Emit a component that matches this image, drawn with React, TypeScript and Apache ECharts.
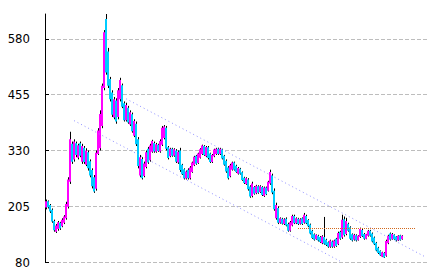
import React, { useEffect, useRef } from "react";
import * as echarts from "echarts";

const opens = [
  202, 216, 208, 197, 172, 148, 154, 168, 160, 168, 178, 204, 260, 345, 310, 346, 314, 346, 305, 336,
  298, 326, 306, 286, 270, 244, 322, 335, 385, 470, 625, 552, 490, 460, 404, 442, 405, 445, 476, 436,
  398, 426, 388, 411, 363, 390, 355, 274, 311, 273, 293, 334, 308, 327, 347, 327, 343, 328, 343, 358,
  381, 337, 317, 334, 318, 330, 303, 330, 298, 288, 267, 287, 268, 282, 297, 318, 302, 314, 322, 340,
  317, 337, 323, 304, 317, 322, 334, 322, 332, 318, 307, 292, 272, 287, 303, 296, 278, 289, 281, 269,
  255, 265, 249, 228, 248, 234, 250, 237, 248, 228, 247, 240, 256, 274, 240, 178, 201, 168, 177, 165,
  177, 165, 150, 162, 183, 167, 177, 166, 178, 168, 183, 174, 164, 150, 142, 131, 139, 136, 122, 136,
  130, 124, 114, 126, 114, 132, 120, 148, 135, 176, 143, 166, 158, 142, 130, 140, 129, 136, 152, 143,
  132, 139, 150, 144, 135, 123, 112, 105, 92, 100, 94, 122, 144, 131, 141, 137, 128, 140, 131,
];
const closes = [
  216, 203, 193, 171, 151, 162, 169, 155, 175, 182, 210, 265, 355, 305, 350, 320, 342, 318, 340, 304,
  330, 290, 274, 250, 238, 325, 375, 412, 475, 595, 505, 475, 445, 410, 445, 395, 465, 488, 428, 398,
  432, 393, 416, 373, 396, 344, 295, 315, 268, 301, 326, 303, 341, 351, 328, 344, 329, 351, 381, 384,
  334, 313, 334, 318, 333, 305, 327, 286, 277, 268, 283, 268, 292, 303, 316, 300, 323, 333, 341, 320,
  338, 313, 304, 320, 332, 334, 322, 334, 312, 298, 283, 268, 297, 303, 287, 282, 291, 278, 264, 257,
  268, 243, 227, 256, 233, 251, 235, 250, 230, 247, 232, 260, 282, 236, 198, 208, 168, 178, 166, 176,
  162, 150, 169, 183, 167, 178, 165, 176, 165, 186, 167, 160, 144, 134, 130, 141, 128, 125, 138, 121,
  118, 114, 128, 114, 128, 116, 145, 132, 175, 140, 172, 150, 132, 128, 141, 128, 139, 154, 138, 132,
  142, 150, 139, 126, 120, 106, 100, 95, 102, 90, 127, 139, 130, 143, 131, 128, 139, 129, 139,
];
const lows = [
  198, 200, 190, 168, 148, 145, 150, 152, 158, 165, 175, 200, 255, 300, 305, 315, 310, 315, 300, 300,
  295, 285, 270, 245, 235, 240, 320, 330, 380, 465, 500, 470, 440, 405, 400, 390, 400, 440, 425, 395,
  395, 390, 385, 370, 360, 340, 290, 270, 265, 270, 290, 300, 305, 325, 325, 325, 327, 325, 340, 355,
  330, 310, 315, 316, 316, 302, 300, 282, 275, 265, 265, 265, 265, 280, 295, 298, 300, 312, 320, 318,
  315, 310, 302, 302, 315, 320, 320, 320, 310, 296, 280, 265, 270, 285, 285, 280, 276, 276, 262, 255,
  253, 240, 224, 225, 231, 232, 233, 235, 228, 226, 230, 238, 253, 232, 195, 175, 165, 166, 164, 163,
  160, 148, 148, 160, 165, 165, 163, 164, 163, 166, 165, 158, 142, 132, 128, 130, 126, 123, 120, 119,
  116, 112, 112, 112, 112, 114, 118, 130, 132, 137, 140, 148, 130, 126, 128, 126, 128, 134, 136, 130,
  131, 137, 137, 124, 118, 104, 98, 94, 91, 89, 92, 120, 128, 130, 130, 126, 127, 128, 130,
];
const highs = [
  220, 218, 210, 200, 175, 165, 172, 170, 178, 185, 215, 270, 372, 350, 355, 350, 345, 350, 345, 340,
  335, 330, 310, 290, 275, 330, 380, 420, 480, 600, 636, 560, 495, 465, 450, 447, 470, 493, 480, 440,
  437, 430, 420, 415, 400, 395, 360, 320, 315, 305, 330, 338, 345, 354, 350, 347, 345, 355, 385, 387,
  385, 340, 336, 336, 335, 333, 330, 336, 300, 290, 285, 290, 295, 305, 318, 320, 325, 335, 343, 342,
  340, 340, 325, 322, 334, 336, 336, 336, 334, 320, 310, 295, 300, 305, 305, 298, 293, 291, 283, 271,
  270, 268, 252, 260, 250, 253, 252, 252, 250, 249, 249, 262, 287, 278, 245, 213, 205, 180, 179, 178,
  180, 168, 172, 186, 186, 180, 179, 178, 180, 190, 186, 176, 166, 152, 144, 142, 141, 138, 140, 181,
  132, 126, 130, 128, 130, 134, 148, 150, 186, 182, 179, 168, 160, 144, 143, 142, 140, 157, 154, 145,
  143, 152, 152, 146, 137, 125, 114, 106, 103, 102, 130, 141, 146, 145, 142, 138, 140, 141, 140,
];

// Total slots on the category axis (data plus empty room on the right)
const slotCount = 191;
const categories = Array.from({ length: slotCount }, (_, i) => String(i + 1));

const yTicks = [80, 205, 330, 455, 580];

// Trend channel lines: [startIndex, startValue, endIndex, endValue]
const upperTrend = [40, 446, 189, 93];
const lowerTrend = [14, 397, 147, 82];
// Horizontal reference line: [startIndex, endIndex, value]
const refLine = [126, 185, 155];

export default function App() {
  const ref = useRef<HTMLDivElement>(null);
  useEffect(() => {
    const chart = echarts.init(ref.current!, undefined, { renderer: "svg" });
    const data = opens.map((o, i) => [i, o, closes[i], lows[i], highs[i]]);
    chart.setOption({
      animation: false,
      grid: { left: 45, right: 7, top: 14, bottom: 14 },
      xAxis: {
        type: "category",
        data: categories,
        axisLine: { show: false },
        axisTick: { show: false },
        axisLabel: { show: false },
        splitLine: { show: false },
      },
      yAxis: {
        type: "value",
        min: 80,
        max: 636,
        axisLine: { show: true, lineStyle: { color: "#000", width: 1 } },
        axisTick: { show: true, inside: true, length: 4, customValues: yTicks, lineStyle: { color: "#000" } },
        axisLabel: {
          customValues: yTicks,
          margin: 15,
          color: "#000",
          fontSize: 13,
          fontFamily: "'Liberation Sans Narrow', 'DejaVu Sans Condensed', sans-serif",
        },
        splitLine: { show: true, lineStyle: { color: "#bdbdbd", type: [4, 2], width: 1 } },
      },
      series: [
        {
          type: "custom",
          clip: false,
          data,
          encode: { x: 0, y: [1, 2, 3, 4] },
          renderItem: (params: any, api: any) => {
            const idx = api.value(0);
            const o = api.value(1);
            const c = api.value(2);
            const l = api.value(3);
            const h = api.value(4);
            const pO = api.coord([idx, o]);
            const pC = api.coord([idx, c]);
            const pL = api.coord([idx, l]);
            const pH = api.coord([idx, h]);
            const cx = Math.round(pO[0]);
            const up = c >= o;
            const top = Math.min(pO[1], pC[1]);
            const hgt = Math.max(Math.abs(pO[1] - pC[1]), 1);
            return {
              type: "group",
              children: [
                {
                  type: "line",
                  shape: { x1: cx + 0.5, y1: pH[1], x2: cx + 0.5, y2: pL[1] },
                  style: { stroke: "#000", lineWidth: 1 },
                },
                {
                  type: "rect",
                  shape: { x: cx - 1, y: top, width: 2, height: hgt },
                  style: { fill: up ? "#ff00ff" : "#00ccff" },
                },
              ],
            };
          },
          markLine: {
            silent: true,
            symbol: ["none", "none"],
            label: { show: false },
            data: [
              [
                { coord: [upperTrend[0], upperTrend[1]], lineStyle: { color: "#8f8fff", type: [1, 3], width: 1 } },
                { coord: [upperTrend[2], upperTrend[3]] },
              ],
              [
                { coord: [lowerTrend[0], lowerTrend[1]], lineStyle: { color: "#8f8fff", type: [1, 3], width: 1 } },
                { coord: [lowerTrend[2], lowerTrend[3]] },
              ],
              [
                { coord: [refLine[0], refLine[2]], lineStyle: { color: "#d2691e", type: [1, 1], width: 1 } },
                { coord: [refLine[1], refLine[2]] },
              ],
            ],
          },
        },
      ],
    });
    return () => chart.dispose();
  }, []);
  return (
    <div
      ref={ref}
      style={{ position: "fixed", left: 0, top: 0, width: 434, height: 276, background: "#fff" }}
    />
  );
}
